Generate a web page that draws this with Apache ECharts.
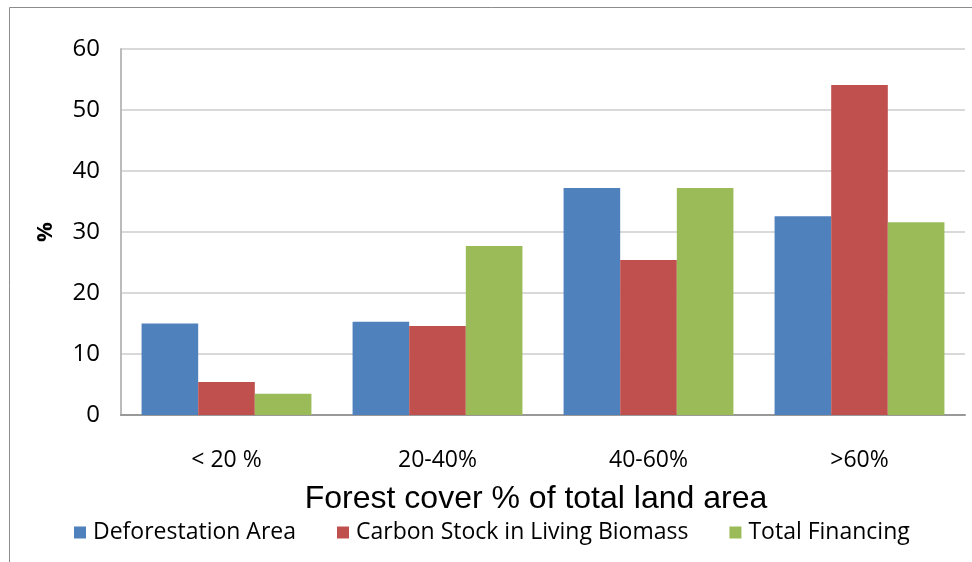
<!DOCTYPE html>
<html>
<head>
<meta charset="utf-8">
<script src="https://cdn.jsdelivr.net/npm/echarts@6/dist/echarts.min.js"></script>
<style>
  html, body { margin: 0; padding: 0; background: #fff; }
  #chart { width: 972px; height: 562px; }
</style>
</head>
<body>
<div id="chart"></div>
<script>
// Forest cover bands and the share (%) of each measure falling in them
const categories = ['< 20 %', '20-40%', '40-60%', '>60%'];
const seriesNames = ['Deforestation Area', 'Carbon Stock in Living Biomass', 'Total Financing'];
const deforestationArea = [15.0, 15.3, 37.2, 32.6];
const carbonStock = [5.4, 14.6, 25.4, 54.1];
const totalFinancing = [3.5, 27.7, 37.2, 31.6];
const seriesColors = ['#4f81bd', '#c0504d', '#9bbb59'];
const yTicks = [0, 10, 20, 30, 40, 50, 60];

const labelFont = '"Open Sans", "Noto Sans", sans-serif';

const chart = echarts.init(document.getElementById('chart'));
const values = [deforestationArea, carbonStock, totalFinancing];

chart.setOption({
  animation: false,
  backgroundColor: '#ffffff',
  graphic: [{
    type: 'rect',
    shape: { x: 9.5, y: 7.5, width: 1000, height: 600 },
    style: { fill: 'none', stroke: '#8c8c8c', lineWidth: 1 },
    silent: true
  }],
  grid: { left: 121, right: 7, top: 49, bottom: 147 },
  legend: {
    top: 516,
    left: 69,
    itemWidth: 12,
    itemHeight: 12,
    itemGap: 41,
    icon: 'rect',
    textStyle: { fontFamily: labelFont, fontSize: 23, color: '#000', padding: [0, 0, 0, 2] },
    data: seriesNames
  },
  xAxis: {
    type: 'category',
    data: categories,
    name: 'Forest cover % of total land area',
    nameLocation: 'middle',
    nameGap: 68,
    nameTextStyle: { fontFamily: '"Liberation Sans", Arial, sans-serif', fontSize: 32, color: '#000', padding: [0, 14, 0, 0] },
    axisLine: { lineStyle: { color: '#999', width: 2 } },
    axisTick: { show: false },
    axisLabel: { fontFamily: labelFont, fontSize: 23, color: '#000', margin: 34 }
  },
  yAxis: {
    type: 'value',
    min: yTicks[0],
    max: yTicks[yTicks.length - 1],
    interval: 10,
    name: '%',
    nameLocation: 'middle',
    nameRotate: 90,
    nameGap: 64,
    nameTextStyle: { fontFamily: labelFont, fontSize: 22, fontWeight: 'bold', color: '#000' },
    axisLine: { show: true, lineStyle: { color: '#bbb', width: 2 } },
    axisTick: { show: false },
    axisLabel: { fontFamily: labelFont, fontSize: 24, color: '#000', margin: 21 },
    splitLine: { lineStyle: { color: '#d9d9d9', width: 2 } }
  },
  series: seriesNames.map((name, i) => ({
    name: name,
    type: 'bar',
    data: values[i],
    itemStyle: { color: seriesColors[i] },
    barGap: '0%',
    barCategoryGap: '19.5%'
  }))
});
</script>
</body>
</html>
